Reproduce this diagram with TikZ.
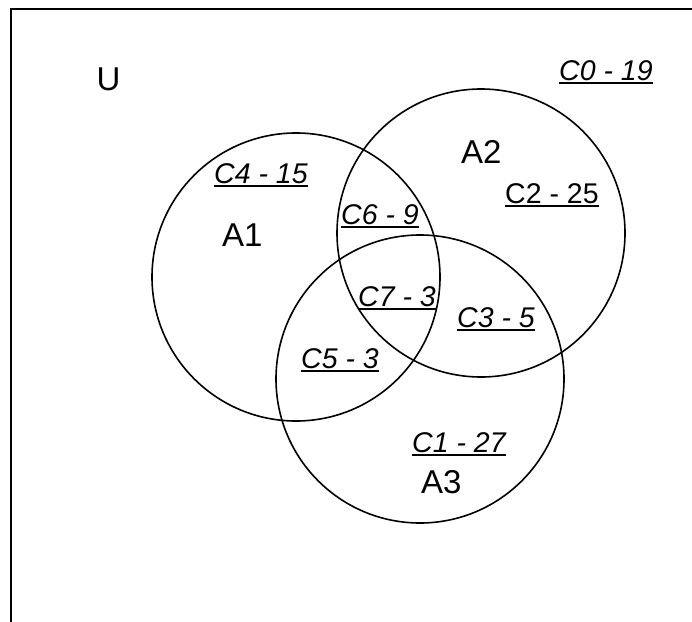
\documentclass[tikz,border=0pt]{standalone}
\usepackage{fontspec}
\setmainfont{Liberation Sans}
\newcommand{\myul}[1]{\setbox0\hbox{#1}\rlap{\copy0}\rule[-4pt]{\wd0}{1.8pt}}
\begin{document}
\begin{tikzpicture}[x=1pt,y=-1pt,
  lbl/.style={inner sep=0pt,anchor=base west,font=\fontsize{33}{35}\selectfont},
  cnt/.style={inner sep=0pt,anchor=base west,font=\fontsize{28.5}{30}\selectfont},
  ring/.style={draw=black,line width=1.6pt}]
\useasboundingbox (0,0) rectangle (692,621);
\fill[white] (0,0) rectangle (692,621);
\draw[line width=2pt] (11,625) -- (11,9) -- (695,9);
\coordinate (c1) at (296,277);
\coordinate (c2) at (481,233);
\coordinate (c3) at (420,379);
\draw[ring] (c1) circle[radius=144];
\draw[ring] (c2) circle[radius=144];
\draw[ring] (c3) circle[radius=144];
\node[lbl] (u) at (96.5,90) {U};
\node[lbl] (a1) at (222,246) {A1};
\node[lbl] (a2) at (461,163) {A2};
\node[lbl] (a3) at (421,493) {A3};
\node[cnt] (k0) at (559,80) {\myul{\itshape C0 - 19}};
\node[cnt] (k2) at (505,203) {\myul{C2 - 25}};
\node[cnt] (k4) at (214,183) {\myul{\itshape C4 - 15}};
\node[cnt] (k6) at (341,224) {\myul{\itshape C6 - 9}};
\node[cnt] (k7) at (358,306) {\myul{\itshape C7 - 3}};
\node[cnt] (k3) at (457,327) {\myul{\itshape C3 - 5}};
\node[cnt] (k5) at (301,368) {\myul{\itshape C5 - 3}};
\node[cnt] (k1) at (412,452) {\myul{\itshape C1 - 27}};
\end{tikzpicture}
\end{document}
